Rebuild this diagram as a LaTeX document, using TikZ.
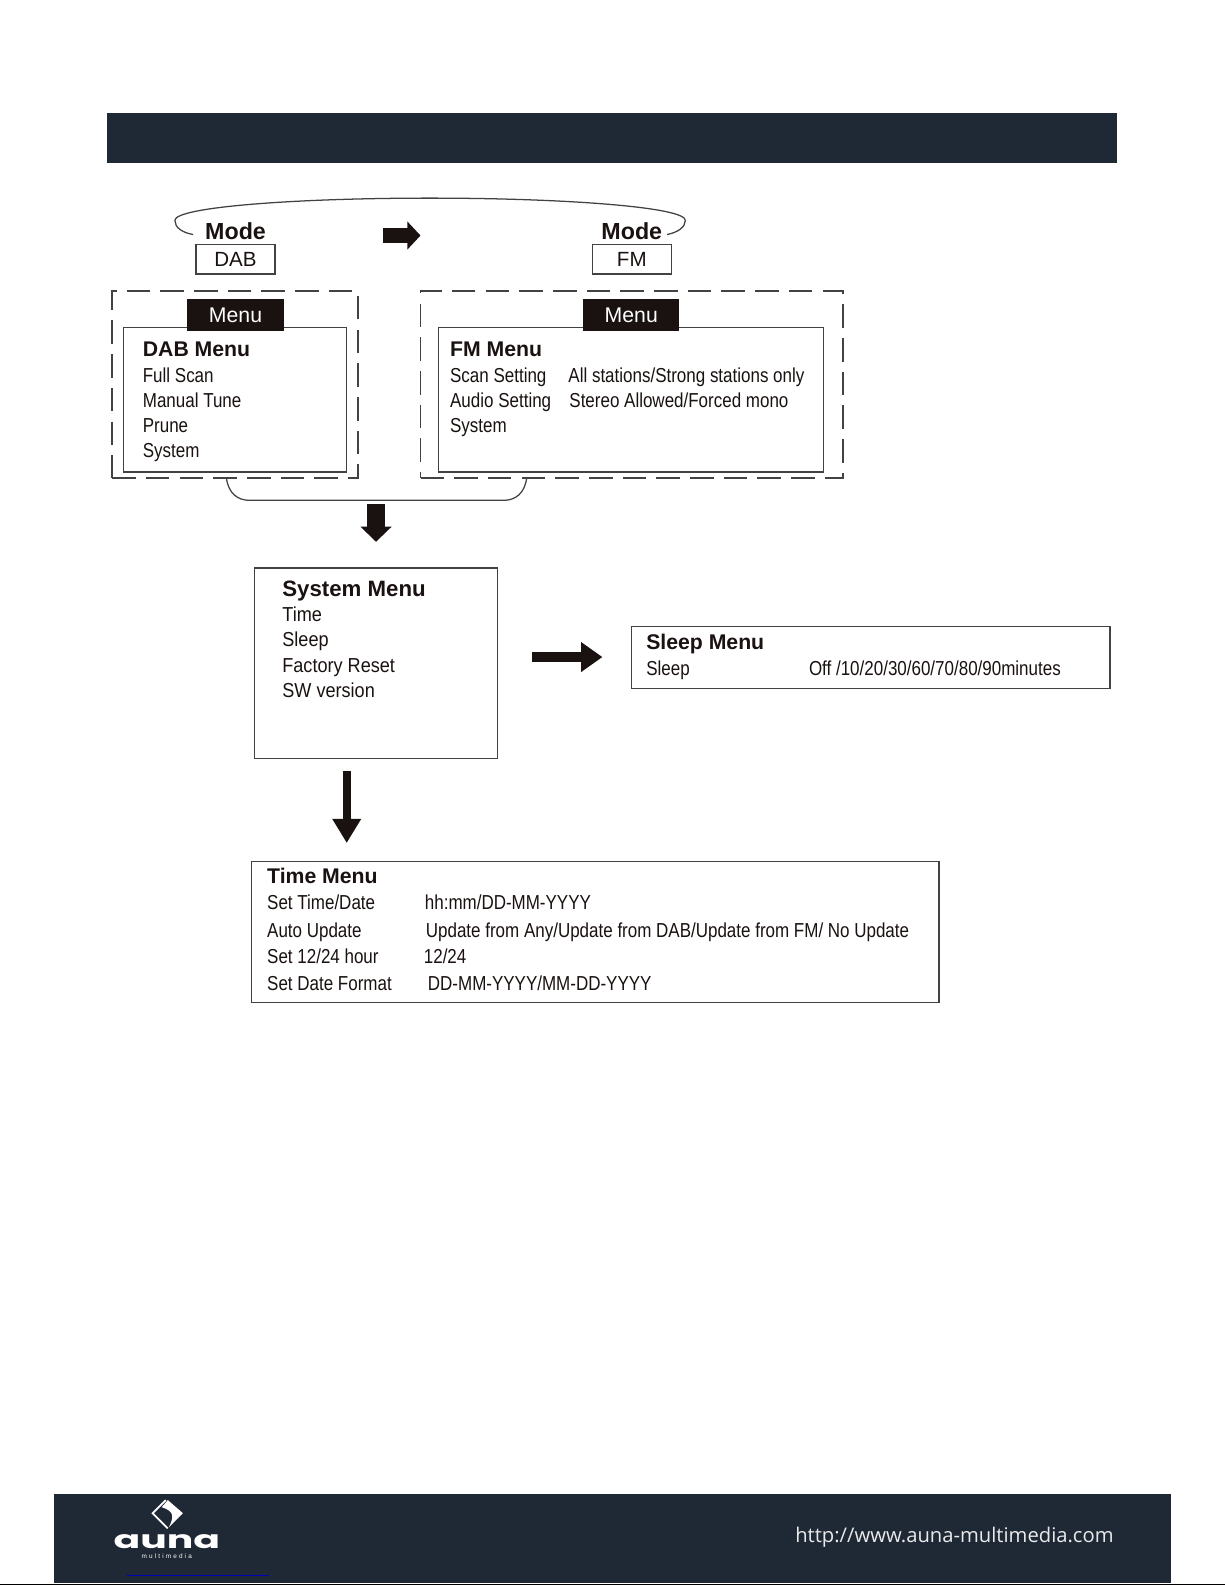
\documentclass[tikz,border=0pt]{standalone}
\usepackage{fontspec}
\setmainfont{Liberation Sans}
\newfontfamily\narrowfont[FakeStretch=0.84]{Liberation Sans}
\newfontfamily\widerfont[FakeStretch=0.895]{Liberation Sans}
\newfontfamily\urlfont{Open Sans}
\newfontfamily\logofont[FakeStretch=1.6]{Poppins}
\usetikzlibrary{arrows.meta}
\definecolor{barblue}{RGB}{31,40,53}
\definecolor{tabblack}{RGB}{26,18,16}
\definecolor{boxline}{RGB}{66,66,68}
\tikzset{
	box/.style={draw=boxline,line width=0.75pt,fill=white,rectangle,inner sep=0pt,text=tabblack},
	dashbox/.style={draw=boxline,line width=0.95pt,dash pattern={on 14pt off 6pt},rectangle,inner sep=0pt},
	tab/.style={fill=tabblack,text=white,rectangle,inner sep=0pt,font=\fontsize{12.6}{14}\selectfont},
	head/.style={anchor=base west,inner sep=0pt,text=tabblack,font=\bfseries\fontsize{12.6}{14}\selectfont},
	item/.style={anchor=base west,inner sep=0pt,text=tabblack,font=\narrowfont\fontsize{12}{14}\selectfont},
	modetext/.style={anchor=base,inner sep=0pt,text=tabblack,font=\bfseries\fontsize{13.8}{15}\selectfont},
	blockarrow/.style n args={3}{draw=tabblack,line width=#1*0.6pt,-{Triangle[length=#2*0.6pt,width=#3*0.6pt,fill=tabblack]}},
}
\begin{document}
\begin{tikzpicture}[x=0.6pt,y=0.6pt,yscale=-1,xscale=1]
	\useasboundingbox (0,0) rectangle (1212,1568);

	%Shape: Rectangle [id:header]
	\fill [barblue] (106,112) rectangle (1105,161);
	%Shape: Rectangle [id:footer]
	\fill [barblue] (53,1478) rectangle (1158,1566);
	%Straight Lines [id:footerline]
	\draw [line width=1pt, black] (0,1567.5) -- (1212,1567.5);
	\draw [line width=0.8pt, blue!75!black] (126,1558.5) -- (266,1558.5);

	%Curve Lines [id:modeloop]
	\draw [draw=boxline, line width=0.75pt] (191,232) .. controls (180,230) and (173,225) .. (173,218) .. controls (173,205) and (290,196) .. (425,196) .. controls (560,196) and (678,205) .. (678,218) .. controls (678,225) and (670,230) .. (660,232);

	% Mode Nodes
	\node (modeDab) [modetext] at (233,237) {Mode};
	\node (modeFm) [modetext] at (625,237) {Mode};
	\node (dabBox) [box, minimum width=78*0.6pt, minimum height=29*0.6pt, font=\fontsize{12.2}{14}\selectfont] at (233,256.5) {\raisebox{-1.2pt}{DAB}};
	\node (fmBox) [box, minimum width=78*0.6pt, minimum height=29*0.6pt, font=\fontsize{12.2}{14}\selectfont] at (625,256.5) {\raisebox{-1.2pt}{FM}};

	%Block Arrows
	\coordinate (modeFrom) at (379,233);
	\coordinate (modeTo) at (416,233);
	\draw [blockarrow={14}{13}{27}] (modeFrom) -- (modeTo);

	% Dashed Frames
	\node (dabFrame) [dashbox, minimum width=243*0.6pt, minimum height=185*0.6pt] at (232.5,380.5) {};
	\node (fmFrame) [dashbox, minimum width=418*0.6pt, minimum height=185*0.6pt] at (625,380.5) {};

	% Menu Boxes
	\node (dabMenu) [box, minimum width=221*0.6pt, minimum height=143*0.6pt] at (232.5,395.5) {};
	\node (fmMenu) [box, minimum width=381*0.6pt, minimum height=143*0.6pt] at (624.5,395.5) {};
	\node (dabTab) [tab, minimum width=96*0.6pt, minimum height=31*0.6pt] at (233,311.5) {Menu};
	\node (fmTab) [tab, minimum width=95*0.6pt, minimum height=31*0.6pt] at (624.5,311.5) {Menu};

	% Text Node
	\node (dabHead) [head] at (141,353) {DAB Menu};
	\node (dabScan) [item] at (141,378) {Full Scan};
	\node (dabTune) [item] at (141,403) {Manual Tune};
	\node (dabPrune) [item] at (141,428) {Prune};
	\node (dabSystem) [item] at (141,453) {System};
	% Text Node
	\node (fmHead) [head] at (445,353) {FM Menu};
	\node (fmScan) [item] at (445,378) {Scan Setting};
	\node (fmAudio) [item] at (445,403) {Audio Setting};
	\node (fmSystem) [item] at (445,428) {System};
	\node (fmScanVal) [item] at (562,378) {All stations/Strong stations only};
	\node (fmAudioVal) [item] at (563,403) {Stereo Allowed/Forced mono};

	%Curve Lines [id:bracket]
	\coordinate (bracketL) at (224,473);
	\coordinate (bracketR) at (521,473);
	\draw [draw=boxline, line width=0.75pt] (bracketL) .. controls (226,488) and (235,495) .. (247,495) -- (498,495) .. controls (510,495) and (519,488) .. (bracketR);

	\coordinate (systemFrom) at (372,499);
	\coordinate (systemTo) at (372,536);
	\draw [blockarrow={18}{15}{30}] (systemFrom) -- (systemTo);

	% System Menu
	\node (systemMenu) [box, minimum width=240*0.6pt, minimum height=188*0.6pt] at (372,656) {};
	\node (systemHead) [head, font=\bfseries\fontsize{13.2}{14}\selectfont] at (279,590) {System Menu};
	\node (systemTime) [item, font=\widerfont\fontsize{12}{14}\selectfont] at (279,615) {Time};
	\node (systemSleep) [item, font=\widerfont\fontsize{12}{14}\selectfont] at (279,640) {Sleep};
	\node (systemReset) [item, font=\widerfont\fontsize{12}{14}\selectfont] at (279,665) {Factory Reset};
	\node (systemVersion) [item, font=\widerfont\fontsize{12}{14}\selectfont] at (279,690) {SW version};

	\coordinate (sleepFrom) at (526,650);
	\coordinate (sleepTo) at (596,650);
	\draw [blockarrow={10}{21}{28}] (sleepFrom) -- (sleepTo);

	% Sleep Menu
	\node (sleepMenu) [box, minimum width=473*0.6pt, minimum height=61*0.6pt] at (861.5,650.5) {};
	\node (sleepHead) [head] at (639,642.5) {Sleep Menu};
	\node (sleepItem) [item] at (639,668) {Sleep};
	\node (sleepVal) [item] at (800,668) {Off /10/20/30/60/70/80/90minutes};

	\coordinate (timeFrom) at (343,763);
	\coordinate (timeTo) at (343,834);
	\draw [blockarrow={8}{24}{27}] (timeFrom) -- (timeTo);

	% Time Menu
	\node (timeMenu) [box, minimum width=680*0.6pt, minimum height=140*0.6pt] at (589,922) {};
	\node (timeHead) [head] at (264,874) {Time Menu};
	\node (timeSet) [item] at (264,900) {Set Time/Date};
	\node (timeAuto) [item] at (264,927) {Auto Update};
	\node (timeHour) [item] at (264,953) {Set 12/24 hour};
	\node (timeFormat) [item] at (264,980) {Set Date Format};
	\node (timeSetVal) [item] at (420,900) {hh:mm/DD-MM-YYYY};
	\node (timeAutoVal) [item] at (421,927) {Update from Any/Update from DAB/Update from FM/ No Update};
	\node (timeHourVal) [item] at (419,953) {12/24};
	\node (timeFormatVal) [item] at (423,980) {DD-MM-YYYY/MM-DD-YYYY};

	%Shape: Logo [id:logomark]
	\fill [white] (166,1484) -- (181,1497) -- (167,1511) .. controls (172,1501) and (173,1495) .. (160,1491) -- cycle;
	\draw [white, line width=1.1pt] (164,1484) -- (151,1497) -- (166,1512);

	% Text Node
	\node (logoWord) [anchor=base, inner sep=0pt, text=white, font=\logofont\bfseries\fontsize{14.6}{15}\selectfont] at (165,1532) {auna};
	\node (logoSub) [anchor=base, inner sep=0pt, text=white, font=\fontsize{3.8}{4}\selectfont] at (165,1542) {m\,\,u\,\,l\,\,t\,\,i\,\,m\,\,e\,\,d\,\,i\,\,a};
	\node (footerUrl) [anchor=base east, inner sep=0pt, text=white!90!barblue, font=\urlfont\fontsize{12}{14}\selectfont] at (1102,1526) {http://www.auna-multimedia.com};
\end{tikzpicture}
\end{document}
